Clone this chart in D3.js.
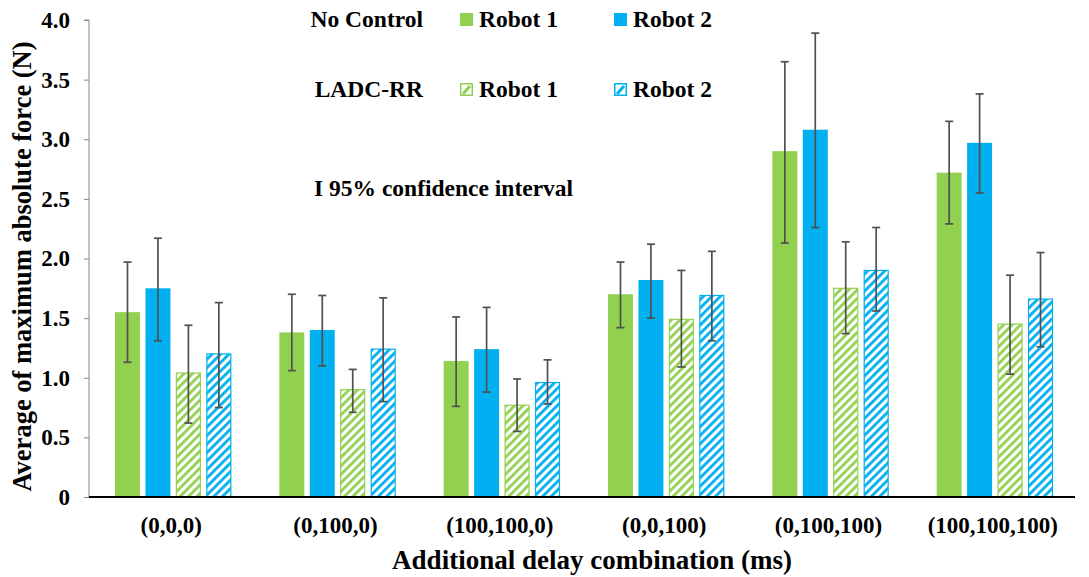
<!DOCTYPE html>
<html>
<head>
<meta charset="utf-8">
<script src="https://cdn.jsdelivr.net/npm/d3@7"></script>
<style>
  body { margin: 0; background: #fff; }
  text { font-family: "Liberation Serif", "Times New Roman", serif; font-weight: bold; fill: #000; }
</style>
</head>
<body>
<script>
var width = 1089;
var height = 577;

// data
var categories = ["(0,0,0)", "(0,100,0)", "(100,100,0)", "(0,0,100)", "(0,100,100)", "(100,100,100)"];
var seriesKeys = ["ncR1", "ncR2", "laR1", "laR2"];

var ncR1   = [1.55, 1.38, 1.14, 1.70, 2.90, 2.72];
var ncR1Lo = [1.13, 1.06, 0.76, 1.42, 2.13, 2.29];
var ncR1Hi = [1.97, 1.70, 1.51, 1.97, 3.65, 3.15];

var ncR2   = [1.75, 1.40, 1.24, 1.82, 3.08, 2.97];
var ncR2Lo = [1.31, 1.10, 0.88, 1.50, 2.26, 2.55];
var ncR2Hi = [2.17, 1.69, 1.59, 2.12, 3.89, 3.38];

var laR1   = [1.04, 0.90, 0.77, 1.49, 1.75, 1.45];
var laR1Lo = [0.62, 0.71, 0.55, 1.09, 1.37, 1.03];
var laR1Hi = [1.44, 1.07, 0.99, 1.90, 2.14, 1.86];

var laR2   = [1.20, 1.24, 0.96, 1.69, 1.90, 1.66];
var laR2Lo = [0.75, 0.80, 0.78, 1.31, 1.56, 1.26];
var laR2Hi = [1.63, 1.67, 1.15, 2.06, 2.26, 2.05];

var yTicks = [0, 0.5, 1.0, 1.5, 2.0, 2.5, 3.0, 3.5, 4.0];

var green = "#92D050";
var blue = "#00B0F0";

var series = [
    {key: "ncR1", vals: ncR1, lo: ncR1Lo, hi: ncR1Hi, color: green, hatch: false},
    {key: "ncR2", vals: ncR2, lo: ncR2Lo, hi: ncR2Hi, color: blue, hatch: false},
    {key: "laR1", vals: laR1, lo: laR1Lo, hi: laR1Hi, color: green, hatch: true},
    {key: "laR2", vals: laR2, lo: laR2Lo, hi: laR2Hi, color: blue, hatch: true}
];

var svg = d3.select("body")
    .append("svg")
    .attr("width", width)
    .attr("height", height);

// hatch patterns
var defs = svg.append("defs");
[["hatchGreen", green], ["hatchBlue", blue]].forEach(function(p){
    var pat = defs.append("pattern")
        .attr("id", p[0])
        .attr("patternUnits", "userSpaceOnUse")
        .attr("width", 6)
        .attr("height", 6)
        .attr("patternTransform", "rotate(45)");
    pat.append("rect").attr("width", 6).attr("height", 6).attr("fill", "#fff");
    pat.append("rect").attr("width", 2.8).attr("height", 6).attr("fill", p[1]);
});

var plotLeft = 89, plotRight = 1075, plotTop = 20, plotBottom = 497;

var x0 = d3.scaleBand()
    .domain(categories)
    .range([plotLeft, plotRight]);

var x1 = d3.scaleBand()
    .domain(seriesKeys)
    .range([26, x0.bandwidth() - 22])
    .paddingInner(0.18);

var y = d3.scaleLinear()
    .domain([0, 4])
    .range([plotBottom, plotTop]);

// y axis
var yAxis = svg.append("g")
    .attr("transform", "translate(" + plotLeft + ",0)")
    .call(d3.axisLeft(y).tickValues(yTicks).tickSize(5).tickPadding(14)
        .tickFormat(function(d){ return d === 0 ? "0" : d3.format(".1f")(d); }));
yAxis.select(".domain").attr("stroke", "#868686").attr("d", "M-5," + plotTop + "H0V" + plotBottom);
yAxis.selectAll(".tick line").attr("stroke", "#868686");
yAxis.selectAll(".tick text")
    .style("font-family", "Liberation Serif")
    .style("font-weight", "bold")
    .style("font-size", "23px")
    .attr("fill", "#000");

// bars
var groups = svg.append("g").selectAll("g.cat")
    .data(categories)
    .enter().append("g")
    .attr("class", "cat")
    .attr("transform", function(d){ return "translate(" + x0(d) + ",0)"; });

series.forEach(function(s){
    groups.append("rect")
        .attr("x", x1(s.key) + (s.hatch ? 0.5 : 0))
        .attr("y", function(d, i){ return y(s.vals[i]); })
        .attr("width", x1.bandwidth() - (s.hatch ? 1 : 0))
        .attr("height", function(d, i){ return plotBottom - y(s.vals[i]); })
        .attr("fill", s.hatch ? (s.color === green ? "url(#hatchGreen)" : "url(#hatchBlue)") : s.color)
        .attr("stroke", s.hatch ? s.color : "none")
        .attr("stroke-width", 1.2);
});

// error bars
series.forEach(function(s){
    var cx = x1(s.key) + x1.bandwidth() / 2;
    var eb = groups.append("g").attr("stroke", "#505050").attr("stroke-width", 1.7);
    eb.append("line")
        .attr("x1", cx).attr("x2", cx)
        .attr("y1", function(d, i){ return y(s.hi[i]); })
        .attr("y2", function(d, i){ return y(s.lo[i]); });
    eb.append("line")
        .attr("x1", cx - 4).attr("x2", cx + 4)
        .attr("y1", function(d, i){ return y(s.hi[i]); })
        .attr("y2", function(d, i){ return y(s.hi[i]); });
    eb.append("line")
        .attr("x1", cx - 4).attr("x2", cx + 4)
        .attr("y1", function(d, i){ return y(s.lo[i]); })
        .attr("y2", function(d, i){ return y(s.lo[i]); });
});

// x axis
var xAxis = svg.append("g")
    .attr("transform", "translate(0," + plotBottom + ")")
    .call(d3.axisBottom(x0).tickSize(0).tickPadding(20));
xAxis.select(".domain").attr("stroke", "#000").attr("stroke-width", 2).attr("d", "M" + plotLeft + ",0H" + plotRight);
xAxis.selectAll(".tick text")
    .style("font-family", "Liberation Serif")
    .style("font-weight", "bold")
    .style("font-size", "23px")
    .attr("fill", "#000");

// axis titles
svg.append("text")
    .attr("text-anchor", "middle")
    .attr("transform", "translate(592,569)")
    .style("font-size", "27px")
    .text("Additional delay combination (ms)");

svg.append("text")
    .attr("text-anchor", "middle")
    .attr("transform", "translate(31," + ((plotTop + plotBottom) / 2 + 8) + ") rotate(-90)")
    .style("font-size", "26.5px")
    .text("Average of maximum absolute force (N)");

// legend
var legendRows = [
    {label: "No Control", y: 27, items: [{color: green, hatch: false}, {color: blue, hatch: false}]},
    {label: "LADC-RR", y: 97, items: [{color: green, hatch: true}, {color: blue, hatch: true}]}
];
var legendX = [460, 614];
var legendNames = ["Robot 1", "Robot 2"];

legendRows.forEach(function(r){
    svg.append("text")
        .attr("x", 423).attr("y", r.y)
        .attr("text-anchor", "end")
        .style("font-size", "23.5px")
        .text(r.label);
    r.items.forEach(function(it, j){
        svg.append("rect")
            .attr("x", legendX[j] + (it.hatch ? 0.75 : 0))
            .attr("y", r.y - 14 + (it.hatch ? 0.75 : 0))
            .attr("width", it.hatch ? 11.5 : 13)
            .attr("height", it.hatch ? 11.5 : 13)
            .attr("fill", it.hatch ? "#fff" : it.color)
            .attr("stroke", it.hatch ? it.color : "none")
            .attr("stroke-width", 1.5);
        if (it.hatch) {
            svg.append("line")
                .attr("x1", legendX[j] + 3).attr("y1", r.y - 3)
                .attr("x2", legendX[j] + 10).attr("y2", r.y - 11)
                .attr("stroke", it.color)
                .attr("stroke-width", 3);
        }
        svg.append("text")
            .attr("x", legendX[j] + 19).attr("y", r.y)
            .style("font-size", "23.5px")
            .text(legendNames[j]);
    });
});

svg.append("text")
    .attr("x", 314).attr("y", 196)
    .style("font-size", "23.5px")
    .text("I 95% confidence interval");
</script>
</body>
</html>
